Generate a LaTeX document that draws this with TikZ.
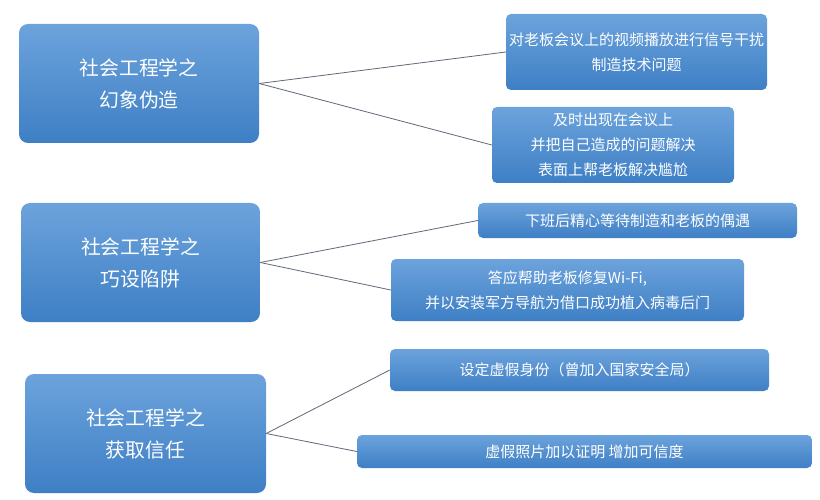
\documentclass[tikz,border=0pt]{standalone}
\usepackage{fontspec}
\usepackage{xcolor}
\usepackage{tikz}
\newfontfamily\cjk{Noto Sans CJK SC}
\definecolor{boxtop}{RGB}{108,163,220}
\definecolor{boxbottom}{RGB}{62,127,197}
\definecolor{linkgray}{RGB}{95,105,120}

\begin{document}
\begin{tikzpicture}[x=1pt, y=-1pt,
        topic/.style={rounded corners=9pt, top color=boxtop, bottom color=boxbottom,
            text=white, align=center, inner sep=0pt, minimum height=119,
            font=\cjk\fontsize{19.8}{32}\selectfont},
        item/.style={rounded corners=5pt, top color=boxtop, bottom color=boxbottom,
            text=white, align=center, inner sep=0pt,
            font=\cjk\fontsize{15}{25}\selectfont},
        link/.style={draw=linkgray, line width=0.8pt}]
                \useasboundingbox[fill=white] (0, 0) rectangle (820, 500);

                \node[topic, minimum width=240] (illusion) at (139, 83.5) {社会工程学之\\幻象伪造};
                \node[topic, minimum width=239] (trap) at (140.5, 262.5) {社会工程学之\\巧设陷阱};
                \node[topic, minimum width=241] (trust) at (145.5, 433.5) {社会工程学之\\获取信任};

                \node[item, minimum width=261, minimum height=76] (jam) at (636.5, 52) {对老板会议上的视频播放进行信号干扰\\制造技术问题};
                \node[item, minimum width=242, minimum height=76] (rescue) at (613, 145) {及时出现在会议上\\并把自己造成的问题解决\\表面上帮老板解决尴尬};
                \node[item, minimum width=319, minimum height=35] (meet) at (637.5, 220.5) {下班后精心等待制造和老板的偶遇};
                \node[item, minimum width=353, minimum height=62] (wifi) at (567.5, 290) {答应帮助老板修复Wi-Fi,\\并以安装军方导航为借口成功植入病毒后门};
                \node[item, minimum width=379, minimum height=42] (identity) at (579.5, 370) {设定虚假身份（曾加入国家安全局）};
                \node[item, minimum width=455, minimum height=33] (photo) at (584.5, 451.5) {虚假照片加以证明 增加可信度};

                \draw[link] (illusion.east) -- (jam.west);
                \draw[link] (illusion.east) -- (rescue.west);

                \draw[link] (trap.east) -- (meet.west);
                \draw[link] (trap.east) -- (wifi.west);

                \draw[link] (trust.east) -- (identity.west);
                \draw[link] (trust.east) -- (photo.west);
            \end{tikzpicture}
\end{document}
